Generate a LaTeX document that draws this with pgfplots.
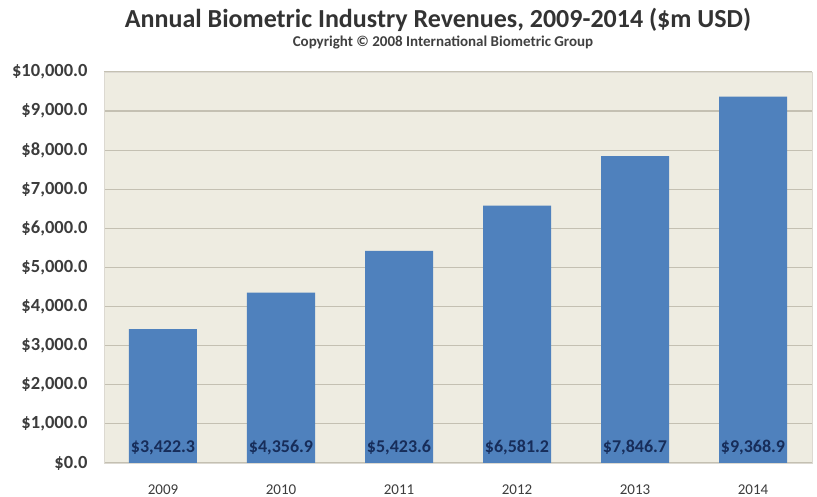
\documentclass[border=0pt]{standalone}
\usepackage{pgfplots}
\pgfplotsset{compat=1.18}
\usepackage{fontspec}
\setmainfont{Carlito}
\definecolor{barblue}{RGB}{79,129,189}
\definecolor{plotbg}{RGB}{238,236,225}
\definecolor{gridc}{RGB}{196,192,178}
\definecolor{ticktext}{RGB}{60,60,60}
\definecolor{labtext}{RGB}{23,45,90}
\begin{document}
\begin{tikzpicture}
\path[use as bounding box] (0pt,0pt) rectangle (817pt,497pt);
\node[font=\bfseries\fontsize{26}{28}\selectfont, text=black!80] at (438pt,477pt) {Annual Biometric Industry Revenues, 2009-2014 (\$m USD)};
\node[font=\bfseries\fontsize{15}{17}\selectfont, text=black!75] at (443pt,454pt) {Copyright © 2008 International Biometric Group};
\begin{axis}[
  at={(104pt,34pt)}, anchor=south west,
  scale only axis, width=708pt, height=391pt,
  xmin=-0.5, xmax=5.5, ymin=0, ymax=10000,
  ytick={0,1000,...,10000},
  scaled y ticks=false,
  xtick={0,...,5},
  xticklabels={2009,2010,2011,2012,2013,2014},
  axis background/.style={fill=plotbg},
  axis line style={draw=gridc!60},
  ymajorgrids, grid style={gridc, line width=1.2pt},
  major tick length=0pt,
  /pgf/number format/assume math mode=true,
  yticklabel={\$\pgfmathprintnumber[fixed,fixed zerofill,precision=1,1000 sep={,}]{\tick}},
  yticklabel style={font=\bfseries\fontsize{18.5}{20}\selectfont, text=ticktext, xshift=-13pt},
  xticklabel style={font=\fontsize{15}{17}\selectfont, text=ticktext, yshift=-18pt},
]
\addplot[ybar, bar width=68pt, fill=barblue, draw=none] coordinates {
 (0,3422.3) (1,4356.9) (2,5423.6) (3,6581.2) (4,7846.7) (5,9368.9)};
\addplot[draw=none, mark=none, nodes near coords, point meta=explicit,
  nodes near coords={\$\pgfmathprintnumber[fixed,fixed zerofill,precision=1,1000 sep={,}]{\pgfplotspointmeta}},
  every node near coord/.append style={font=\bfseries\fontsize{18}{20}\selectfont, text=labtext, anchor=center}]
  table[meta=v] {
x y v
0 400 3422.3
1 400 4356.9
2 400 5423.6
3 400 6581.2
4 400 7846.7
5 400 9368.9
};
\end{axis}
\end{tikzpicture}
\end{document}
